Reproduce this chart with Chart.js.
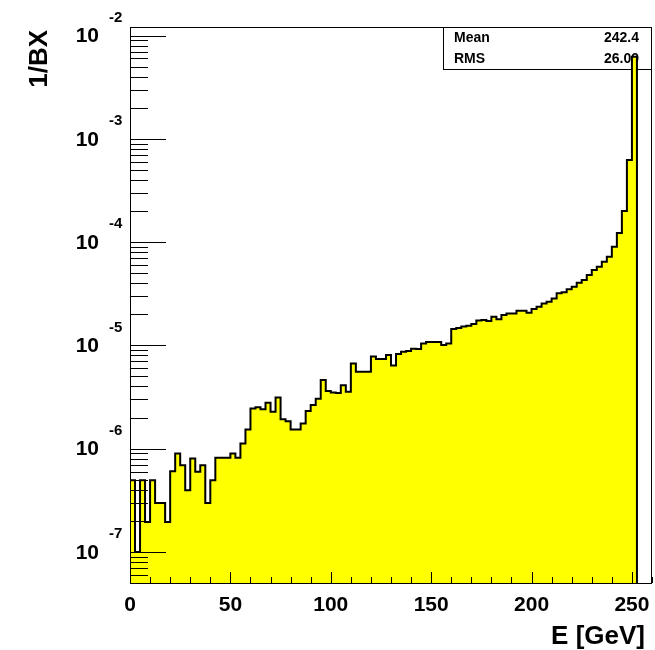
<!DOCTYPE html>
<html>
<head>
<meta charset="utf-8">
<script src="https://cdn.jsdelivr.net/npm/chart.js@4"></script>
<style>
  html, body { margin: 0; padding: 0; background: #fff; }
  canvas { display: block; }
</style>
</head>
<body>
<canvas id="spectrum" width="655" height="650"></canvas>
<script>
/* =========================
   DATA
========================= */
const binWidth = 2.5; // GeV

const binValues = [
  4.95e-7, 1.0e-7, 4.95e-7, 1.95e-7, 4.95e-7, 2.98e-7, 2.98e-7, 1.95e-7, 6.05e-7, 8.98e-7,
  6.92e-7, 3.96e-7, 8.04e-7, 5.96e-7, 6.92e-7, 2.98e-7, 4.95e-7, 8.15e-7, 8.15e-7, 8.15e-7,
  8.98e-7, 8.15e-7, 1.12e-6, 1.53e-6, 2.45e-6, 2.51e-6, 2.41e-6, 2.78e-6, 2.27e-6, 3.13e-6,
  1.93e-6, 1.84e-6, 1.53e-6, 1.53e-6, 1.75e-6, 2.32e-6, 2.64e-6, 3.04e-6, 4.61e-6, 3.61e-6,
  3.49e-6, 3.45e-6, 4.12e-6, 3.55e-6, 6.69e-6, 5.55e-6, 5.55e-6, 5.55e-6, 7.82e-6, 7.36e-6,
  7.36e-6, 8.05e-6, 6.37e-6, 8.24e-6, 8.67e-6, 8.81e-6, 9.27e-6, 9.21e-6, 1.045e-5, 1.076e-5,
  1.08e-5, 1.08e-5, 1.007e-5, 1.045e-5, 1.44e-5, 1.47e-5, 1.52e-5, 1.545e-5, 1.61e-5, 1.74e-5,
  1.76e-5, 1.72e-5, 1.89e-5, 1.79e-5, 1.97e-5, 2.04e-5, 2.04e-5, 2.16e-5, 2.16e-5, 2.07e-5,
  2.25e-5, 2.37e-5, 2.55e-5, 2.64e-5, 2.85e-5, 3.19e-5, 3.26e-5, 3.49e-5, 3.70e-5, 4.04e-5,
  4.29e-5, 4.80e-5, 5.37e-5, 5.78e-5, 6.46e-5, 7.22e-5, 9.02e-5, 1.225e-4, 2.00e-4, 6.25e-4,
  6.22e-3
];

const xTickLabels = [0, 50, 100, 150, 200, 250];
const yDecades = [-7, -6, -5, -4, -3, -2];

const statNames = ['Mean', 'RMS'];
const statValues = ['242.4', '26.09'];

const xTitle = 'E [GeV]';
const yTitle = '1/BX';

const X_MIN = 0, X_MAX = 260;
const Y_MIN = 5e-8, Y_MAX = 1.21e-2;

/* =========================
   HISTOGRAM OUTLINE POINTS
   (left edge up from the floor, one step per bin, back down)
========================= */
const points = [{ x: 0, y: Y_MIN }];
binValues.forEach((v, i) => points.push({ x: i * binWidth, y: v }));
points.push({ x: binValues.length * binWidth, y: Y_MIN });

const BOLD = '"Liberation Sans", Arial, Helvetica, sans-serif';

/* =========================
   FRAME, TICKS, LABELS
========================= */
const frameStyle = {
  id: 'frameStyle',

  // stats box sits under the histogram line
  beforeDatasetsDraw(chart) {
    const { ctx, chartArea: a } = chart;
    const boxLeft = 443, boxBottom = 69;
    ctx.save();
    ctx.fillStyle = '#fff';
    ctx.fillRect(boxLeft, a.top, a.right - boxLeft, boxBottom - a.top);
    ctx.strokeStyle = '#000';
    ctx.lineWidth = 1;
    ctx.strokeRect(boxLeft + 0.5, a.top + 0.5, a.right - boxLeft - 1, boxBottom - a.top);

    ctx.fillStyle = '#000';
    ctx.font = 'bold 14px ' + BOLD;
    ctx.textBaseline = 'middle';
    statNames.forEach((name, i) => {
      const ty = 38 + i * 21;
      ctx.textAlign = 'left';
      ctx.fillText(name, 454, ty);
      ctx.textAlign = 'right';
      ctx.fillText(statValues[i], 639, ty);
    });
    ctx.restore();
  },

  afterDatasetsDraw(chart) {
    const { ctx, chartArea: a } = chart;
    const xs = chart.scales.x;
    const ys = chart.scales.y;

    ctx.save();
    ctx.strokeStyle = '#000';
    ctx.lineWidth = 1;

    // frame
    ctx.strokeRect(a.left + 0.5, a.top + 0.5, a.right - a.left - 1, a.bottom - a.top);

    // y ticks: decades long, 2..9 short
    ctx.beginPath();
    for (let e = -8; e <= -2; e++) {
      for (let m = 1; m <= 9; m++) {
        const v = m * Math.pow(10, e);
        if (v < Y_MIN * 0.999 || v > Y_MAX) continue;
        const py = Math.round(ys.getPixelForValue(v)) + 0.5;
        const len = m === 1 ? 36 : 18;
        ctx.moveTo(a.left, py);
        ctx.lineTo(a.left + len, py);
      }
    }

    // x ticks: every 50 long, every 10 short
    for (let v = X_MIN; v <= X_MAX; v += 10) {
      const px = Math.round(xs.getPixelForValue(v)) + 0.5;
      const len = v % 50 === 0 ? 11 : 6;
      ctx.moveTo(px, a.bottom);
      ctx.lineTo(px, a.bottom - len);
    }
    ctx.stroke();

    ctx.fillStyle = '#000';

    // y labels as 10 with exponent
    yDecades.forEach(e => {
      const py = ys.getPixelForValue(Math.pow(10, e));
      ctx.font = 'bold 21px ' + BOLD;
      ctx.textAlign = 'right';
      ctx.textBaseline = 'middle';
      ctx.fillText('10', 99, py + 1);
      ctx.font = 'bold 15px ' + BOLD;
      ctx.textAlign = 'left';
      ctx.fillText(String(e), 109, py - 18);
    });

    // x labels
    ctx.font = 'bold 21px ' + BOLD;
    ctx.textAlign = 'center';
    ctx.textBaseline = 'middle';
    xTickLabels.forEach(v => {
      ctx.fillText(String(v), xs.getPixelForValue(v), 605);
    });

    // axis titles
    ctx.font = 'bold 26px ' + BOLD;
    ctx.textAlign = 'right';
    ctx.textBaseline = 'alphabetic';
    ctx.fillText(xTitle, 645, 644);

    ctx.translate(47, 30);
    ctx.rotate(-Math.PI / 2);
    ctx.fillText(yTitle, 0, 0);

    ctx.restore();
  }
};

/* =========================
   CHART
========================= */
const ctx = document.getElementById('spectrum').getContext('2d');

new Chart(ctx, {
  type: 'line',
  data: {
    datasets: [{
      data: points,
      stepped: 'before',
      fill: 'start',
      backgroundColor: '#ffff00',
      borderColor: '#000',
      borderWidth: 2,
      borderJoinStyle: 'miter',
      pointRadius: 0,
      pointHoverRadius: 0
    }]
  },
  options: {
    responsive: false,
    animation: false,
    layout: { padding: { left: 130, right: 3, top: 27, bottom: 67 } },
    plugins: {
      legend: { display: false },
      tooltip: { enabled: false }
    },
    scales: {
      x: { type: 'linear', min: X_MIN, max: X_MAX, display: false },
      y: { type: 'logarithmic', min: Y_MIN, max: Y_MAX, display: false }
    }
  },
  plugins: [frameStyle]
});
</script>
</body>
</html>
